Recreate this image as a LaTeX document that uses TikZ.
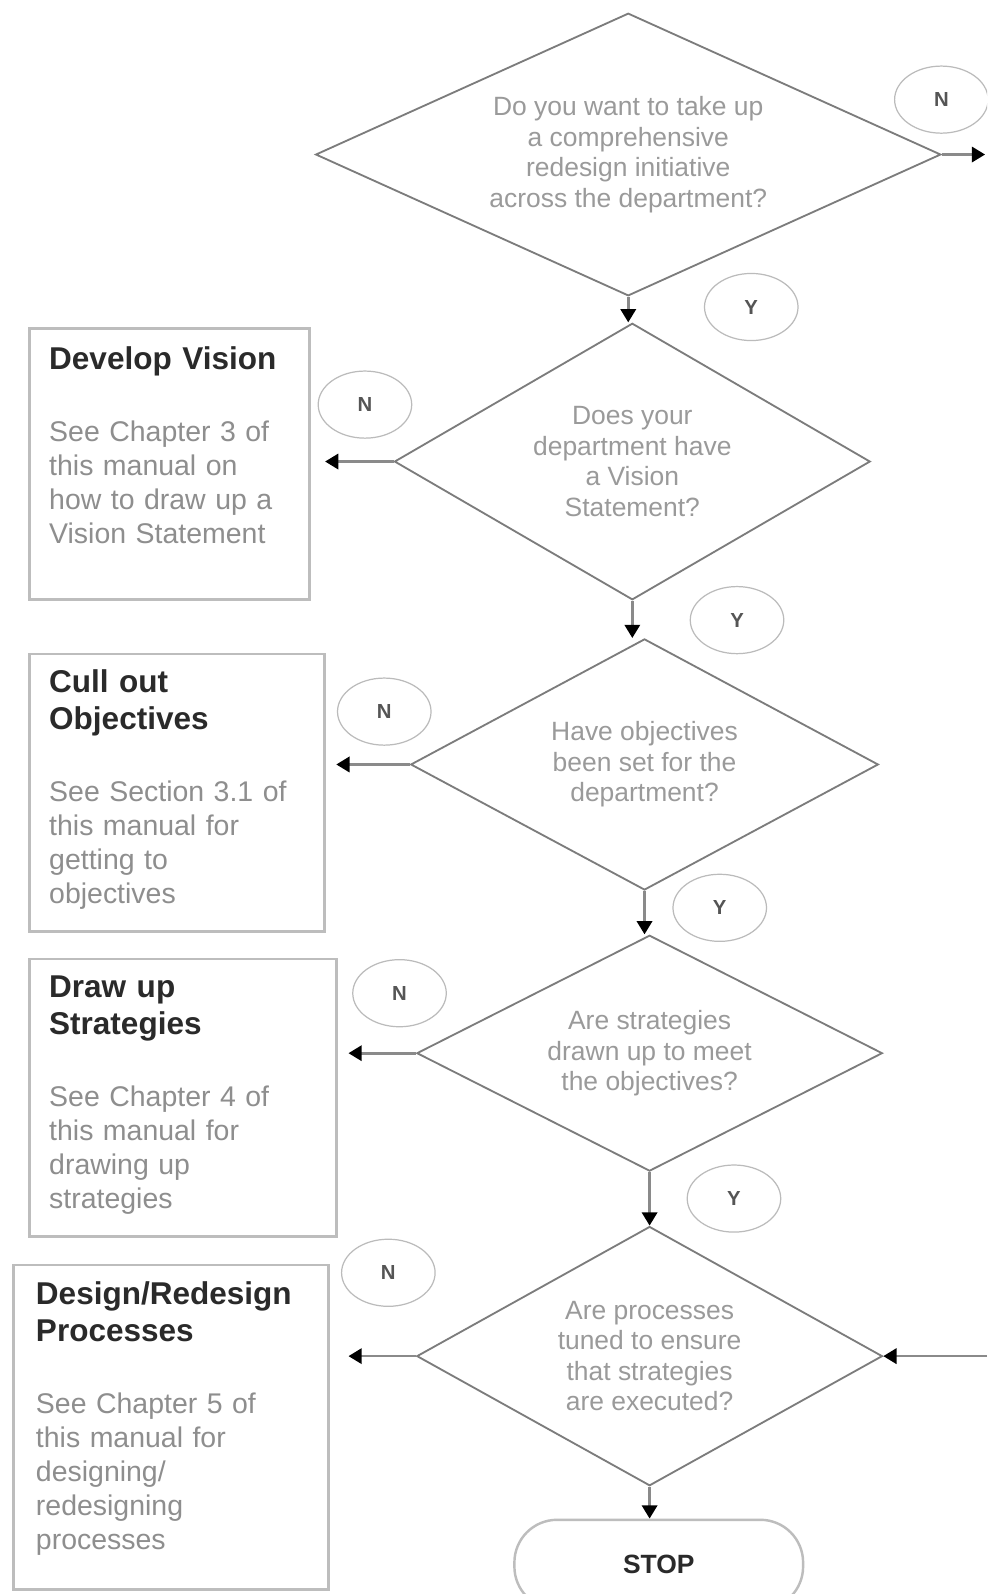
\documentclass[tikz,border=0pt]{standalone}
\usepackage{fontspec}
\setmainfont{Liberation Sans}
\usetikzlibrary{shapes.geometric,arrows.meta}

\definecolor{edgegray}{HTML}{7C7C7C}
\definecolor{qtext}{HTML}{9A9A9A}
\definecolor{boxline}{HTML}{BDBDBD}
\definecolor{bodytext}{HTML}{8E8E8E}
\definecolor{titletext}{HTML}{2A2A2A}
\definecolor{tagline}{HTML}{BBBBBB}
\definecolor{tagtext}{HTML}{555555}
\definecolor{shaft}{HTML}{8A8A8A}

\tikzset{
  question/.style={diamond, draw=edgegray, line width=0.9pt, inner sep=0pt,
    text=qtext, align=center, font=\fontsize{13}{15}\selectfont},
  infobox/.style={draw=boxline, line width=1.4pt, anchor=north west, inner sep=0pt},
  boxtitle/.style={anchor=base west, inner sep=0pt, text width=140pt, align=left,
    text=titletext, font=\fontsize{15.5}{18.5}\selectfont\bfseries},
  boxbody/.style={anchor=base west, inner sep=0pt, text width=140pt, align=left,
    text=bodytext, font=\fontsize{14}{16.75}\selectfont},
  tag/.style={ellipse, draw=tagline, line width=0.6pt, minimum width=46pt,
    minimum height=33pt, inner sep=0pt, text=tagtext,
    font=\fontsize{10}{11}\selectfont\bfseries},
  flow/.style={draw=shaft, line width=1.3pt, -{Triangle[black,length=6.5pt,width=7.5pt]}},
  terminal/.style={draw=boxline, line width=1.2pt, rounded corners=21pt,
    minimum width=142pt, minimum height=44pt, inner sep=0pt, text=titletext,
    font=\fontsize{13}{15}\selectfont\bfseries}
}

\begin{document}
\begin{tikzpicture}[x=0.5pt, y=-0.5pt]
  \useasboundingbox (0,0) rectangle (971,1568);
  \clip (0,0) rectangle (971,1568);
  \fill[white] (0,0) rectangle (971,1568);

  % decision chain
  \node[question, aspect=2.21, minimum width=307.5pt, minimum height=139pt] (d1) at (618,152)
    {Do you want to take up\\a comprehensive\\redesign initiative\\across the department?};
  \node[question, aspect=1.72, minimum width=234pt, minimum height=136pt] (d2) at (622,454)
    {Does your\\department have\\a Vision\\Statement?};
  \node[question, aspect=1.86, minimum width=230pt, minimum height=123.5pt] (d3) at (634,752)
    {Have objectives\\been set for the\\department?};
  \node[question, aspect=1.97, minimum width=229pt, minimum height=116pt] (d4) at (639,1036)
    {Are strategies\\drawn up to meet\\the objectives?};
  \node[question, aspect=1.80, minimum width=229pt, minimum height=127.5pt] (d5) at (639,1334)
    {Are processes\\tuned to ensure\\that strategies\\are executed?};

  \node[terminal] (stop) at (648,1539) {STOP};

  % action boxes
  \node[infobox, minimum width=137.5pt, minimum height=133pt] (b1) at (28,322) {};
  \node[boxtitle] (t1) at (48,363) {Develop Vision};
  \node[boxbody] (x1) at (48,434) {See Chapter 3 of\\this manual on\\how to draw up a\\Vision Statement};

  \node[infobox, minimum width=145pt, minimum height=136.5pt] (b2) at (28,642) {};
  \node[boxtitle] (t2) at (48,681) {Cull out\\Objectives};
  \node[boxbody] (x2) at (48,788) {See Section 3.1 of\\this manual for\\getting to\\objectives};

  \node[infobox, minimum width=151pt, minimum height=136.5pt] (b3) at (28,942) {};
  \node[boxtitle] (t3) at (48,981) {Draw up\\Strategies};
  \node[boxbody] (x3) at (48,1088) {See Chapter 4 of\\this manual for\\drawing up\\strategies};

  \node[infobox, minimum width=155pt, minimum height=159.5pt] (b4) at (12,1243) {};
  \node[boxtitle] (t4) at (35,1283) {Design/Redesign\\Processes};
  \node[boxbody] (x4) at (35,1390) {See Chapter 5 of\\this manual for\\designing/\\redesigning\\processes};

  % answer tags
  \node[tag] (n1) at (926,98) {N};
  \node[tag] (y1) at (739,302) {Y};
  \node[tag] (n2) at (359,398) {N};
  \node[tag] (y2) at (725,610) {Y};
  \node[tag] (n3) at (378,700) {N};
  \node[tag] (y3) at (708,893) {Y};
  \node[tag] (n4) at (393,977) {N};
  \node[tag] (y4) at (722,1179) {Y};
  \node[tag] (n5) at (382,1252) {N};

  % off-page ends
  \coordinate (exitN) at (969,152);
  \coordinate (entry) at (971,1334);

  % yes branches
  \draw[flow] (d1.south) -- (d1.south |- d2.north);
  \draw[flow] (d2.south) -- (d2.south |- d3.north);
  \draw[flow] (d3.south) -- (d3.south |- d4.north);
  \draw[flow] (d4.south) -- (d4.south |- d5.north);
  \draw[flow] (d5.south) -- (d5.south |- stop.north);

  % no branches
  \draw[flow] (d1.east) -- (exitN);
  \draw[flow, shorten >=7pt] (d2.west) -- (b1.east |- d2.west);
  \draw[flow, shorten >=5pt] (d3.west) -- (b2.east |- d3.west);
  \draw[flow, shorten >=5pt] (d4.west) -- (b3.east |- d4.west);
  \draw[flow, shorten >=9pt] (d5.west) -- (b4.east |- d5.west);

  % loop back in
  \draw[flow] (entry) -- (d5.east);
\end{tikzpicture}
\end{document}
